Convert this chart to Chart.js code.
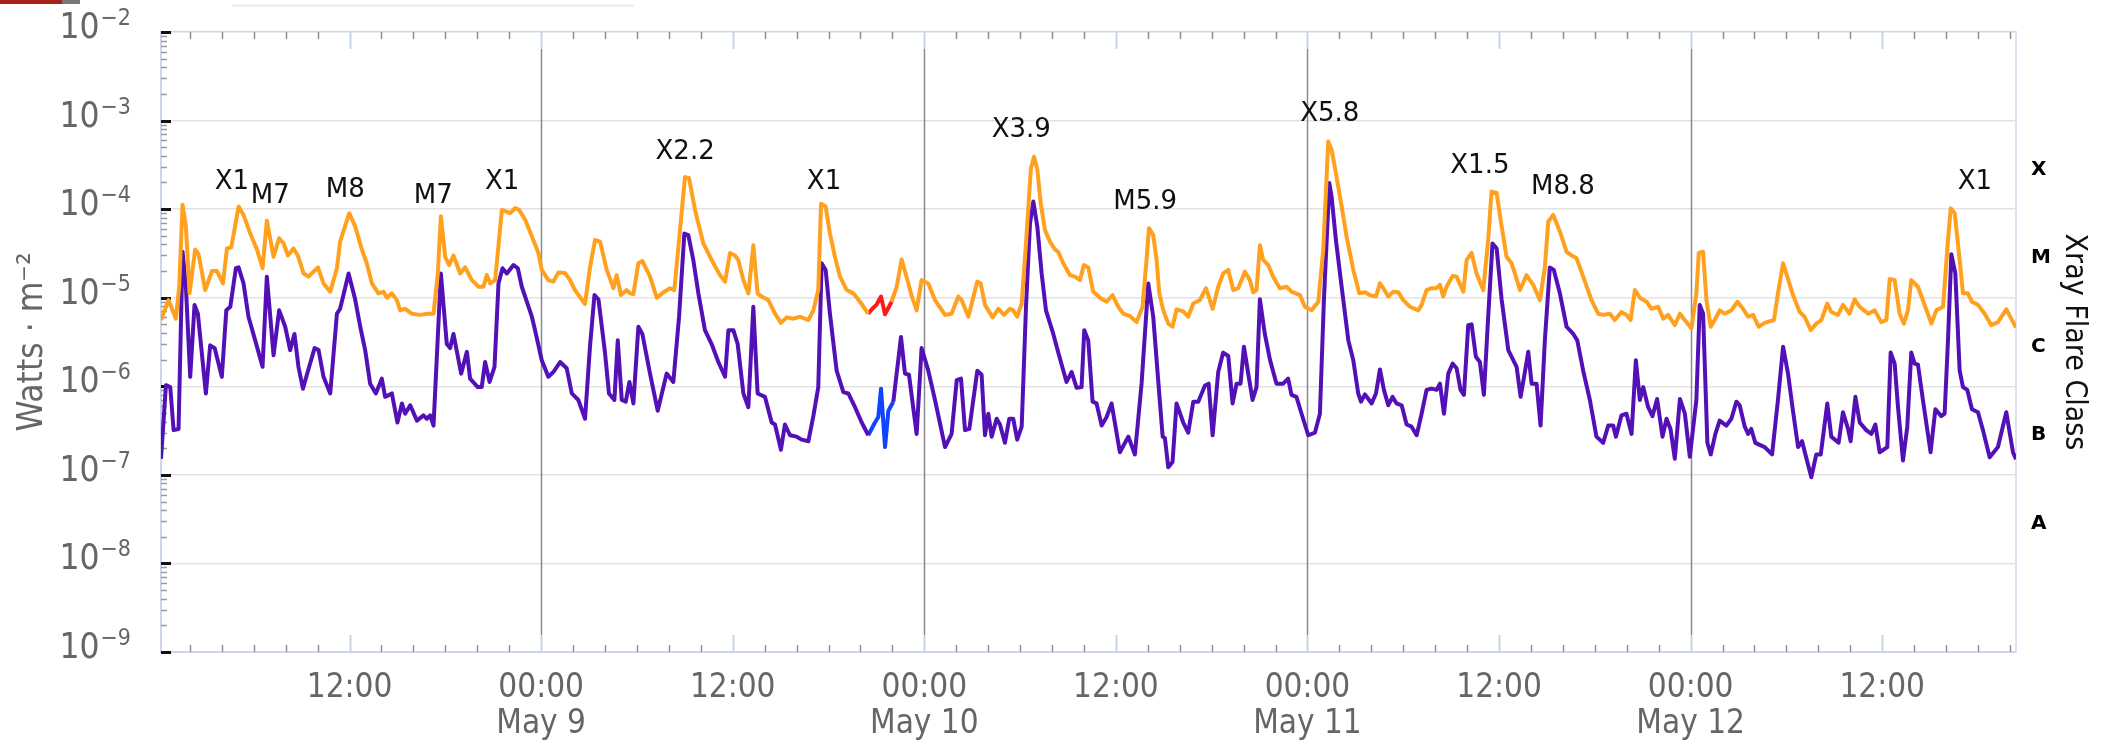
<!DOCTYPE html>
<html>
<head>
<meta charset="utf-8">
<script src="https://cdn.jsdelivr.net/npm/chart.js@4.4.1/dist/chart.umd.min.js"></script>
<style>
body{margin:0;background:#fff;}
#marco{position:relative;width:2105px;height:746px;}
#grafico{display:block;}
.pestana{position:absolute;left:0;top:0;width:62px;height:4px;background:#a8201a;}
.pestana2{position:absolute;left:62px;top:0;width:18px;height:4px;background:#777;}
.barra{position:absolute;left:232px;top:4px;width:402px;height:3px;background:#f0f0f0;}
</style>
</head>
<body>
<div id="marco">
<canvas id="grafico" width="2105" height="746"></canvas>
<div class="pestana"></div><div class="pestana2"></div><div class="barra"></div>
</div>
<script>
// horas desde 8 may 00:00 UTC, flujo en W/m2
const xMin = 0.19;
const xMax = 116.38;

const naranja = [
[0.19,5.6e-6],[0.66,9.4e-6],[1.12,5.8e-6],[1.33,1.33e-5],[1.54,1.12e-4],[1.75,6.4e-5],[1.98,1.12e-5],[2.33,3.5e-5],
[2.54,3.1e-5],[2.96,1.22e-5],[3.38,2.0e-5],[3.69,2.0e-5],[4.07,1.45e-5],[4.32,3.6e-5],[4.59,3.7e-5],[5.05,1.07e-4],
[5.36,8.6e-5],[5.78,5.3e-5],[6.2,3.5e-5],[6.55,2.15e-5],[6.82,7.4e-5],[7.24,2.9e-5],[7.59,4.7e-5],[7.87,4.1e-5],
[8.14,3.0e-5],[8.49,3.6e-5],[8.76,3.0e-5],[9.12,1.88e-5],[9.43,1.73e-5],[10.02,2.2e-5],[10.37,1.45e-5],[10.79,1.17e-5],
[11.21,2.15e-5],[11.41,4.3e-5],[11.98,9.0e-5],[12.35,6.4e-5],[12.77,3.5e-5],[13.08,2.45e-5],[13.4,1.45e-5],[13.81,1.12e-5],
[14.13,1.17e-5],[14.34,1.0e-5],[14.65,1.12e-5],[14.96,9.4e-6],[15.17,7.2e-6],[15.48,7.5e-6],[15.9,6.6e-6],[16.4,6.4e-6],
[16.9,6.6e-6],[17.26,6.6e-6],[17.53,1.88e-5],[17.72,8.3e-5],[17.99,2.9e-5],[18.24,2.34e-5],[18.51,3.0e-5],[18.93,1.88e-5],
[19.24,2.2e-5],[19.66,1.58e-5],[20.08,1.33e-5],[20.39,1.33e-5],[20.6,1.81e-5],[20.81,1.45e-5],[21.12,1.58e-5],[21.54,9.8e-5],
[22.06,9.0e-5],[22.37,1.03e-4],[22.62,9.8e-5],[23.0,7.6e-5],[23.42,4.9e-5],[23.83,3.2e-5],[24.04,2.06e-5],[24.45,1.58e-5],
[24.77,1.52e-5],[25.08,1.93e-5],[25.5,1.9e-5],[25.81,1.58e-5],[26.12,1.22e-5],[26.75,8.5e-6],[27.06,2.2e-5],[27.38,4.5e-5],
[27.69,4.3e-5],[28.11,2.06e-5],[28.53,1.28e-5],[28.73,1.8e-5],[29.0,1.07e-5],[29.36,1.22e-5],[29.57,1.12e-5],[29.78,1.1e-5],
[30.09,2.45e-5],[30.34,2.6e-5],[30.82,1.73e-5],[31.24,1.0e-5],[31.66,1.15e-5],[32.07,1.28e-5],[32.34,1.22e-5],[32.64,4.5e-5],
[33.01,2.3e-4],[33.26,2.25e-4],[33.64,9.8e-5],[34.16,4.1e-5],[34.68,2.67e-5],[35.2,1.8e-5],[35.52,1.52e-5],[35.83,3.2e-5],
[36.14,3.0e-5],[36.35,2.67e-5],[36.67,1.58e-5],[36.98,1.12e-5],[37.29,3.9e-5],[37.56,1.12e-5],[37.81,1.03e-5],[38.23,9.4e-6],
[38.65,6.6e-6],[39.02,5.2e-6],[39.38,6.0e-6],[39.8,5.8e-6],[40.21,6.1e-6],[40.74,5.6e-6],[41.05,7.2e-6],[41.36,1.22e-5],
[41.53,1.15e-4],[41.82,1.07e-4],[42.09,5.3e-5],[42.4,2.9e-5],[42.72,1.73e-5],[43.14,1.22e-5],[43.55,1.12e-5],[43.97,9.0e-6],
[44.49,6.6e-6],[45.2,null],[45.95,9.0e-6],[46.27,1.33e-5],[46.58,2.7e-5],[46.83,1.88e-5],[47.21,1.05e-5],[47.52,7.2e-6],
[47.83,1.58e-5],[48.25,1.45e-5],[48.67,9.4e-6],[49.3,6.4e-6],[49.71,6.6e-6],[50.13,1.03e-5],[50.34,9.4e-6],[50.76,6.1e-6],
[51.32,1.52e-5],[51.53,1.45e-5],[51.8,8.3e-6],[52.28,6.0e-6],[52.64,7.5e-6],[52.99,6.4e-6],[53.37,7.5e-6],[53.57,7.2e-6],
[53.82,6.1e-6],[54.1,8.6e-6],[54.37,4.1e-5],[54.68,2.9e-4],[54.87,3.9e-4],[55.08,2.8e-4],[55.29,1.17e-4],[55.56,5.8e-5],
[55.87,4.3e-5],[56.18,3.5e-5],[56.39,3.3e-5],[56.7,2.45e-5],[57.12,1.8e-5],[57.44,1.73e-5],[57.75,1.58e-5],[58.0,2.34e-5],
[58.27,2.2e-5],[58.58,1.17e-5],[59.0,1.0e-5],[59.42,9.0e-6],[59.79,1.07e-5],[60.15,7.9e-6],[60.46,6.6e-6],[60.88,6.2e-6],
[61.3,5.3e-6],[61.67,7.9e-6],[61.92,2.67e-5],[62.07,6.1e-5],[62.34,5.1e-5],[62.55,2.67e-5],[62.72,1.12e-5],[62.97,7.2e-6],
[63.28,5.1e-6],[63.55,4.7e-6],[63.8,7.4e-6],[64.22,7.0e-6],[64.53,6.1e-6],[64.85,8.6e-6],[65.26,9.4e-6],[65.64,1.28e-5],
[66.06,7.5e-6],[66.41,1.33e-5],[66.72,1.88e-5],[67.04,2.06e-5],[67.35,1.22e-5],[67.66,1.28e-5],[68.08,1.97e-5],[68.39,1.58e-5],
[68.6,1.15e-5],[68.81,1.22e-5],[69.02,3.9e-5],[69.23,2.67e-5],[69.54,2.34e-5],[69.85,1.73e-5],[70.27,1.28e-5],[70.69,1.33e-5],
[71.0,1.17e-5],[71.53,1.07e-5],[71.84,7.9e-6],[72.26,7.2e-6],[72.68,9.0e-6],[72.99,3.5e-5],[73.3,5.8e-4],[73.51,4.7e-4],
[73.78,2.56e-4],[74.14,1.07e-4],[74.45,4.9e-5],[74.87,2.06e-5],[75.25,1.12e-5],[75.6,1.15e-5],[75.91,1.07e-5],[76.29,1.03e-5],
[76.54,1.45e-5],[76.75,1.28e-5],[77.06,1.03e-5],[77.37,1.17e-5],[77.69,1.15e-5],[78.0,9.4e-6],[78.42,7.9e-6],[78.94,7.2e-6],
[79.15,8.3e-6],[79.46,1.22e-5],[79.77,1.28e-5],[80.09,1.28e-5],[80.3,1.4e-5],[80.5,1.03e-5],[80.71,1.33e-5],[81.09,1.76e-5],
[81.34,1.73e-5],[81.76,1.17e-5],[81.97,2.67e-5],[82.28,3.2e-5],[82.59,1.88e-5],[83.01,1.22e-5],[83.32,4.5e-5],[83.53,1.58e-4],
[83.85,1.52e-4],[84.16,6.4e-5],[84.47,2.9e-5],[84.78,2.45e-5],[84.99,1.88e-5],[85.31,1.22e-5],[85.72,1.8e-5],[86.14,1.4e-5],
[86.56,9.4e-6],[86.87,2.2e-5],[87.08,7.2e-5],[87.39,8.6e-5],[87.81,5.6e-5],[88.23,3.3e-5],[88.54,3.0e-5],[88.85,2.8e-5],
[89.27,1.73e-5],[89.79,9.4e-6],[90.21,6.6e-6],[90.52,6.4e-6],[90.94,6.6e-6],[91.25,5.6e-6],[91.67,6.9e-6],[91.98,6.4e-6],
[92.24,5.6e-6],[92.51,1.22e-5],[92.82,1.0e-5],[93.24,9.0e-6],[93.55,7.5e-6],[93.97,7.9e-6],[94.28,5.8e-6],[94.59,6.4e-6],
[95.01,4.9e-6],[95.33,6.6e-6],[95.63,5.6e-6],[96.05,4.5e-6],[96.36,1.12e-5],[96.51,3.2e-5],[96.78,3.3e-5],[96.99,9.4e-6],
[97.26,4.7e-6],[97.51,5.6e-6],[97.82,7.2e-6],[98.13,6.6e-6],[98.55,7.2e-6],[98.93,9.0e-6],[99.28,7.5e-6],[99.6,6.1e-6],
[99.91,6.4e-6],[100.26,4.7e-6],[100.64,5.2e-6],[101.22,5.6e-6],[101.47,1.12e-5],[101.79,2.45e-5],[102.1,1.63e-5],[102.41,1.07e-5],
[102.83,6.9e-6],[103.14,6.1e-6],[103.52,4.3e-6],[103.87,5.1e-6],[104.19,5.6e-6],[104.56,8.6e-6],[104.81,6.9e-6],[105.23,6.4e-6],
[105.54,8.3e-6],[105.96,6.6e-6],[106.27,9.6e-6],[106.59,7.9e-6],[107.11,6.6e-6],[107.53,7.2e-6],[107.94,5.3e-6],[108.26,5.6e-6],
[108.47,1.63e-5],[108.78,1.58e-5],[109.09,6.6e-6],[109.36,5.1e-6],[109.61,7.2e-6],[109.82,1.58e-5],[110.24,1.33e-5],[110.62,8.6e-6],
[111.08,5.1e-6],[111.39,7.2e-6],[111.81,7.9e-6],[112.12,4.5e-5],[112.29,1.02e-4],[112.54,9.0e-5],[112.85,2.67e-5],[113.06,1.12e-5],
[113.37,1.12e-5],[113.62,9.0e-6],[114.0,8.3e-6],[114.42,6.6e-6],[114.83,4.9e-6],[115.25,5.3e-6],[115.77,7.4e-6],[116.08,5.8e-6],
[116.38,4.6e-6]
];

const rojo = [[44.49,6.6e-6],[44.74,7.5e-6],[45.0,8.3e-6],[45.29,1.03e-5],[45.54,6.5e-6],[45.95,9.0e-6]];

const morado = [
[0.19,1.52e-7],[0.5,1.03e-6],[0.77,9.8e-7],[0.98,3.2e-7],[1.29,3.3e-7],[1.54,3.3e-5],[1.75,1.33e-5],[2.02,1.28e-6],
[2.29,8.3e-6],[2.5,6.6e-6],[3.0,8.3e-7],[3.27,2.9e-6],[3.55,2.7e-6],[4.0,1.28e-6],[4.28,7.2e-6],[4.53,7.9e-6],
[4.88,2.15e-5],[5.05,2.2e-5],[5.36,1.45e-5],[5.67,6.1e-6],[6.09,3.3e-6],[6.55,1.66e-6],[6.82,1.73e-5],[7.24,2.24e-6],
[7.59,7.2e-6],[7.97,4.7e-6],[8.28,2.56e-6],[8.55,3.9e-6],[8.8,1.66e-6],[9.08,9.4e-7],[9.47,1.66e-6],[9.81,2.7e-6],
[10.06,2.56e-6],[10.37,1.28e-6],[10.79,8.3e-7],[11.21,6.6e-6],[11.41,7.5e-6],[11.94,1.88e-5],[12.35,9.6e-6],[12.67,4.7e-6],
[12.98,2.56e-6],[13.29,1.07e-6],[13.65,8.3e-7],[14.02,1.22e-6],[14.23,7.6e-7],[14.65,8.3e-7],[15.0,3.9e-7],[15.28,6.4e-7],
[15.48,4.9e-7],[15.8,6.1e-7],[16.22,4.1e-7],[16.63,4.7e-7],[16.84,4.3e-7],[17.05,4.7e-7],[17.26,3.6e-7],[17.72,1.88e-5],
[18.09,3.0e-6],[18.3,2.7e-6],[18.51,3.9e-6],[18.99,1.39e-6],[19.35,2.45e-6],[19.55,1.22e-6],[20.03,9.8e-7],[20.28,9.8e-7],
[20.49,1.88e-6],[20.77,1.12e-6],[21.08,1.66e-6],[21.33,1.45e-5],[21.58,2.15e-5],[21.85,1.88e-5],[22.27,2.34e-5],[22.54,2.15e-5],
[22.79,1.33e-5],[23.42,6.1e-6],[23.62,4.3e-6],[24.04,1.97e-6],[24.45,1.28e-6],[24.77,1.45e-6],[25.19,1.88e-6],[25.6,1.6e-6],
[25.92,8.3e-7],[26.33,7.0e-7],[26.75,4.3e-7],[27.06,2.8e-6],[27.34,1.07e-5],[27.59,9.6e-6],[28.0,2.4e-6],[28.25,8.3e-7],
[28.59,7.0e-7],[28.8,3.3e-6],[29.05,7.0e-7],[29.3,6.7e-7],[29.53,1.12e-6],[29.78,6.4e-7],[30.09,4.7e-6],[30.34,3.9e-6],
[30.82,1.39e-6],[31.3,5.3e-7],[31.66,9.8e-7],[31.86,1.39e-6],[32.28,1.12e-6],[32.64,6.1e-6],[32.97,5.3e-5],[33.22,5.1e-5],
[33.53,2.67e-5],[33.85,1.12e-5],[34.26,4.3e-6],[34.68,3.0e-6],[35.1,1.88e-6],[35.52,1.28e-6],[35.73,4.3e-6],[36.04,4.3e-6],
[36.31,3.0e-6],[36.67,8.3e-7],[36.98,5.8e-7],[37.29,7.9e-6],[37.56,8.3e-7],[38.02,7.6e-7],[38.44,3.9e-7],[38.65,3.7e-7],
[39.02,1.92e-7],[39.27,3.7e-7],[39.59,2.8e-7],[40.0,2.7e-7],[40.32,2.5e-7],[40.74,2.4e-7],[41.05,4.6e-7],[41.36,9.8e-7],
[41.57,2.45e-5],[41.82,2.06e-5],[42.09,6.6e-6],[42.51,1.5e-6],[42.93,8.6e-7],[43.24,8.3e-7],[43.66,5.8e-7],[44.08,3.9e-7],
[44.49,2.8e-7],[45.2,null],[46.06,6.7e-7],[46.54,3.6e-6],[46.79,1.39e-6],[47.04,1.35e-6],[47.52,2.9e-7],[47.83,2.7e-6],
[48.25,1.5e-6],[48.67,7.0e-7],[49.3,2.06e-7],[49.71,2.9e-7],[50.03,1.17e-6],[50.3,1.22e-6],[50.55,3.2e-7],[50.82,3.3e-7],
[51.32,1.5e-6],[51.59,1.35e-6],[51.8,2.8e-7],[52.01,4.9e-7],[52.22,2.7e-7],[52.53,4.3e-7],[52.74,3.7e-7],[53.05,2.3e-7],
[53.32,4.3e-7],[53.57,4.3e-7],[53.82,2.5e-7],[54.1,3.5e-7],[54.37,7.9e-6],[54.62,6.9e-5],[54.83,1.22e-4],[55.08,6.3e-5],
[55.35,1.88e-5],[55.62,7.2e-6],[56.08,3.9e-6],[56.39,2.4e-6],[56.91,1.12e-6],[57.23,1.45e-6],[57.54,9.6e-7],[57.85,9.8e-7],
[58.02,4.3e-6],[58.27,3.3e-6],[58.54,6.7e-7],[58.79,6.4e-7],[59.11,3.6e-7],[59.42,4.5e-7],[59.73,6.4e-7],[60.25,1.8e-7],
[60.78,2.7e-7],[61.19,1.7e-7],[61.61,1.07e-6],[62.03,1.45e-5],[62.34,6.1e-6],[62.65,1.17e-6],[62.93,2.7e-7],[63.07,2.6e-7],
[63.28,1.22e-7],[63.55,1.4e-7],[63.8,6.4e-7],[64.22,3.9e-7],[64.53,3.0e-7],[64.85,6.7e-7],[65.16,6.7e-7],[65.58,1.02e-6],
[65.81,1.07e-6],[66.06,2.8e-7],[66.41,1.45e-6],[66.72,2.4e-6],[67.04,2.2e-6],[67.31,6.4e-7],[67.56,1.07e-6],[67.81,1.07e-6],
[68.02,2.8e-6],[68.29,1.39e-6],[68.56,7.0e-7],[68.81,9.8e-7],[69.02,9.6e-6],[69.33,3.9e-6],[69.65,2.0e-6],[70.06,1.07e-6],
[70.48,1.07e-6],[70.79,1.22e-6],[71.0,8.0e-7],[71.31,7.6e-7],[71.63,4.9e-7],[72.05,2.8e-7],[72.47,3.0e-7],[72.78,4.9e-7],
[73.03,9.4e-6],[73.37,1.97e-4],[73.51,1.39e-4],[73.78,4.5e-5],[74.14,1.33e-5],[74.56,3.3e-6],[74.87,1.97e-6],[75.18,8.3e-7],
[75.35,6.7e-7],[75.6,8.1e-7],[76.02,6.4e-7],[76.29,8.3e-7],[76.54,1.55e-6],[76.79,9.1e-7],[77.06,6.1e-7],[77.33,7.6e-7],
[77.58,6.4e-7],[77.9,6.1e-7],[78.21,3.7e-7],[78.52,3.5e-7],[78.84,2.8e-7],[79.15,4.9e-7],[79.46,9.1e-7],[79.77,9.4e-7],
[80.09,9.1e-7],[80.3,1.07e-6],[80.55,4.9e-7],[80.82,1.39e-6],[81.09,1.8e-6],[81.34,1.6e-6],[81.59,9.1e-7],[81.8,8.0e-7],
[82.07,4.9e-6],[82.28,5.0e-6],[82.55,2.15e-6],[82.8,1.88e-6],[83.05,8.0e-7],[83.32,6.1e-6],[83.59,4.1e-5],[83.85,3.6e-5],
[84.16,9.6e-6],[84.58,2.56e-6],[84.89,1.97e-6],[85.1,1.66e-6],[85.35,7.6e-7],[85.62,1.45e-6],[85.83,2.45e-6],[86.04,1.07e-6],
[86.35,1.07e-6],[86.6,3.6e-7],[86.87,3.3e-6],[87.18,2.2e-5],[87.43,2.06e-5],[87.81,1.12e-5],[88.23,4.7e-6],[88.65,3.9e-6],
[88.9,3.3e-6],[89.27,1.5e-6],[89.69,7.0e-7],[90.1,2.7e-7],[90.52,2.3e-7],[90.84,3.6e-7],[91.15,3.6e-7],[91.32,2.7e-7],
[91.67,4.7e-7],[91.98,4.9e-7],[92.3,2.9e-7],[92.57,1.97e-6],[92.82,7.0e-7],[93.03,9.8e-7],[93.34,5.8e-7],[93.61,4.6e-7],
[93.9,7.2e-7],[94.24,2.7e-7],[94.49,4.3e-7],[94.74,3.3e-7],[95.01,1.52e-7],[95.33,7.2e-7],[95.64,4.9e-7],[95.95,1.6e-7],
[96.36,7.0e-7],[96.57,8.3e-6],[96.78,6.6e-6],[97.05,2.3e-7],[97.26,1.7e-7],[97.55,2.9e-7],[97.82,4.1e-7],[98.24,3.6e-7],
[98.55,4.3e-7],[98.87,6.7e-7],[99.07,6.1e-7],[99.39,3.5e-7],[99.6,2.9e-7],[99.8,3.3e-7],[100.05,2.3e-7],[100.64,2.06e-7],
[101.1,1.7e-7],[101.47,7.0e-7],[101.79,2.8e-6],[102.1,1.39e-6],[102.41,5.3e-7],[102.73,2.06e-7],[102.98,2.4e-7],[103.19,1.7e-7],
[103.56,9.4e-8],[103.87,1.7e-7],[104.15,1.7e-7],[104.56,6.4e-7],[104.81,2.7e-7],[105.27,2.3e-7],[105.54,5.1e-7],[105.86,3.3e-7],
[106.02,2.4e-7],[106.32,7.6e-7],[106.59,3.9e-7],[107.0,3.2e-7],[107.32,2.9e-7],[107.57,3.7e-7],[107.84,1.8e-7],[108.32,2.06e-7],
[108.53,2.4e-6],[108.78,1.8e-6],[108.99,5.8e-7],[109.3,1.45e-7],[109.57,3.5e-7],[109.82,2.4e-6],[110.03,1.8e-6],[110.24,1.75e-6],
[110.55,7.0e-7],[111.03,1.8e-7],[111.33,5.5e-7],[111.7,4.6e-7],[111.91,4.9e-7],[112.12,3.3e-6],[112.33,3.1e-5],[112.58,1.88e-5],
[112.85,1.5e-6],[113.06,9.8e-7],[113.33,9.1e-7],[113.62,5.5e-7],[114.0,5.1e-7],[114.31,3.2e-7],[114.73,1.58e-7],[115.25,2.06e-7],
[115.77,5.1e-7],[116.19,1.8e-7],[116.38,1.5e-7]
];

const azul = [[44.49,2.8e-7],[44.91,3.9e-7],[45.12,4.5e-7],[45.29,9.4e-7],[45.54,2.06e-7],[45.75,5.3e-7],[46.06,6.7e-7]];

// fulguraciones marcadas
const horasFlare = [4.63, 7.03, 11.73, 17.24, 21.56, 33.02, 41.72, 54.07, 61.84, 73.4, 82.8, 88.0, 113.8];
const clasesFlare = ["X1", "M7", "M8", "M7", "X1", "X2.2", "X1", "X3.9", "M5.9", "X5.8", "X1.5", "M8.8", "X1"];
const flujoFlare = [1e-4, 7e-5, 8e-5, 7e-5, 1e-4, 2.2e-4, 1e-4, 3.9e-4, 5.9e-5, 5.8e-4, 1.5e-4, 8.8e-5, 1e-4];

// ejes
const horasEtiqueta = [12, 24, 36, 48, 60, 72, 84, 96, 108];
const textoEtiqueta = ["12:00", ["00:00", "May 9"], "12:00", ["00:00", "May 10"], "12:00", ["00:00", "May 11"], "12:00", ["00:00", "May 12"], "12:00"];
const decadas = [1e-9, 1e-8, 1e-7, 1e-6, 1e-5, 1e-4, 1e-3, 1e-2];
const exponentesY = ["−9", "−8", "−7", "−6", "−5", "−4", "−3", "−2"];
const flujoClases = [2.8e-8, 2.8e-7, 2.8e-6, 2.8e-5, 2.8e-4];
const clases = ["A", "B", "C", "M", "X"];

const puntos = lista => lista.map(p => ({x: p[0], y: p[1]}));

const marcas = {
id: "marcas",
beforeDatasetsDraw(chart){
const {ctx, chartArea: a, scales: {x, y}} = chart;
ctx.save();
for (let h = 2; h < xMax; h += 2) {
const px = Math.round(x.getPixelForValue(h)) + 0.5;
if (h % 24 === 0) {
ctx.strokeStyle = "#c9d3e8";
ctx.lineWidth = 2;
ctx.beginPath();
ctx.moveTo(px, a.top); ctx.lineTo(px, a.top + 17);
ctx.moveTo(px, a.bottom); ctx.lineTo(px, a.bottom - 17);
ctx.stroke();
ctx.strokeStyle = "#8a8a8a";
ctx.lineWidth = 1.5;
ctx.beginPath();
ctx.moveTo(px, a.top + 17); ctx.lineTo(px, a.bottom - 17);
ctx.stroke();
} else {
const largo = h % 12 === 0 ? 17 : 7;
ctx.strokeStyle = h % 12 === 0 ? "#c9d3e8" : "#8f8f8f";
ctx.lineWidth = h % 12 === 0 ? 2 : 1.5;
ctx.beginPath();
ctx.moveTo(px, a.top); ctx.lineTo(px, a.top + largo);
ctx.moveTo(px, a.bottom); ctx.lineTo(px, a.bottom - largo);
ctx.stroke();
}
}
decadas.forEach((d, i) => {
for (let k = 1; k <= 9; k++) {
if (i === decadas.length - 1 && k > 1) break;
const py = Math.round(y.getPixelForValue(d * k)) + 0.5;
ctx.strokeStyle = k === 1 ? "#111" : "#9a9a9a";
ctx.lineWidth = k === 1 ? 3 : 1.5;
ctx.beginPath();
ctx.moveTo(a.left, py);
ctx.lineTo(a.left + (k === 1 ? 10 : 6), py);
ctx.stroke();
}
});
ctx.restore();
}
};

// 10 con exponente elevado, como en el original
const potencias = {
id: "potencias",
afterDraw(chart){
const {ctx, chartArea: a, scales: {y}} = chart;
ctx.save();
ctx.fillStyle = "#666";
ctx.textBaseline = "alphabetic";
decadas.forEach((d, i) => {
const py = y.getPixelForValue(d);
ctx.font = "23px 'DejaVu Sans Condensed'";
const ancho = ctx.measureText(exponentesY[i]).width;
const fin = a.left - 30;
ctx.textAlign = "left";
ctx.fillText(exponentesY[i], fin - ancho, py - 7);
ctx.font = "35px 'DejaVu Sans Condensed'";
ctx.textAlign = "right";
ctx.fillText("10", fin - ancho - 1, py + 6);
});
ctx.restore();
}
};

const etiquetas = {
id: "etiquetas",
afterDatasetsDraw(chart){
const {ctx, scales: {x, y}} = chart;
ctx.save();
ctx.font = "26px 'DejaVu Sans'";
ctx.fillStyle = "#111";
ctx.textAlign = "center";
ctx.textBaseline = "middle";
clasesFlare.forEach((c, i) => {
ctx.fillText(c, x.getPixelForValue(horasFlare[i]), y.getPixelForValue(flujoFlare[i]) - 27);
});
ctx.restore();
}
};

Chart.defaults.font.family = "'DejaVu Sans Condensed', 'DejaVu Sans', sans-serif";
Chart.defaults.color = "#666";

const linea = (datos, color) => ({
data: puntos(datos),
borderColor: color,
borderWidth: 4,
pointRadius: 0,
tension: 0,
spanGaps: false,
borderJoinStyle: "round",
yAxisID: "y"
});

const config = {
type: "line",
data: {
datasets: [
linea(naranja, "#ffa11f"),
linea(rojo, "#ff1a1a"),
linea(morado, "#5310b6"),
linea(azul, "#0f45ff")
]
},
options: {
responsive: false,
animation: false,
devicePixelRatio: 1,
layout: {padding: {top: 32, left: 0, right: 0, bottom: 0}},
plugins: {legend: {display: false}, tooltip: {enabled: false}},
scales: {
x: {
type: "linear",
min: xMin,
max: xMax,
afterBuildTicks: s => { s.ticks = horasEtiqueta.map(v => ({value: v})); },
afterFit: s => { s.height = 94; },
ticks: {
autoSkip: false,
maxRotation: 0,
padding: 18,
color: "#666",
font: {size: 33, lineHeight: 1.1},
callback: (v, i) => textoEtiqueta[i]
},
grid: {display: false, drawTicks: false},
border: {color: "#ccd6eb", width: 2}
},
y: {
type: "logarithmic",
min: 1e-9,
max: 1e-2,
afterBuildTicks: s => { s.ticks = decadas.map(v => ({value: v})); },
afterFit: s => { s.width = 161; },
ticks: {display: false},
grid: {
color: c => (c.tick && c.tick.value === 1e-2) ? "#ccd6eb" : "#e3e3e3",
lineWidth: 1.5,
drawTicks: false
},
border: {color: "#ccd6eb", width: 2},
title: {display: true, text: "Watts · m⁻²", color: "#666", font: {size: 35}, padding: {top: 12, bottom: 0}}
},
y2: {
type: "logarithmic",
position: "right",
min: 1e-9,
max: 1e-2,
afterBuildTicks: s => { s.ticks = flujoClases.map(v => ({value: v})); },
afterFit: s => { s.width = 89; },
ticks: {
padding: 0,
color: "#000",
font: {family: "'DejaVu Sans'", weight: "bold", size: 20},
callback: (v, i) => clases[i]
},
grid: {display: false, drawOnChartArea: false, drawTicks: true, tickLength: 15, tickColor: "rgba(0,0,0,0)"},
border: {color: "#dce3f0", width: 2},
title: {display: true, text: "Xray Flare Class", color: "#111", font: {size: 30}, padding: {top: 13, bottom: 0}}
}
}
},
plugins: [marcas, potencias, etiquetas]
};

const ctx = document.getElementById("grafico");
const chart = new Chart(ctx, config);
</script>
</body>
</html>
